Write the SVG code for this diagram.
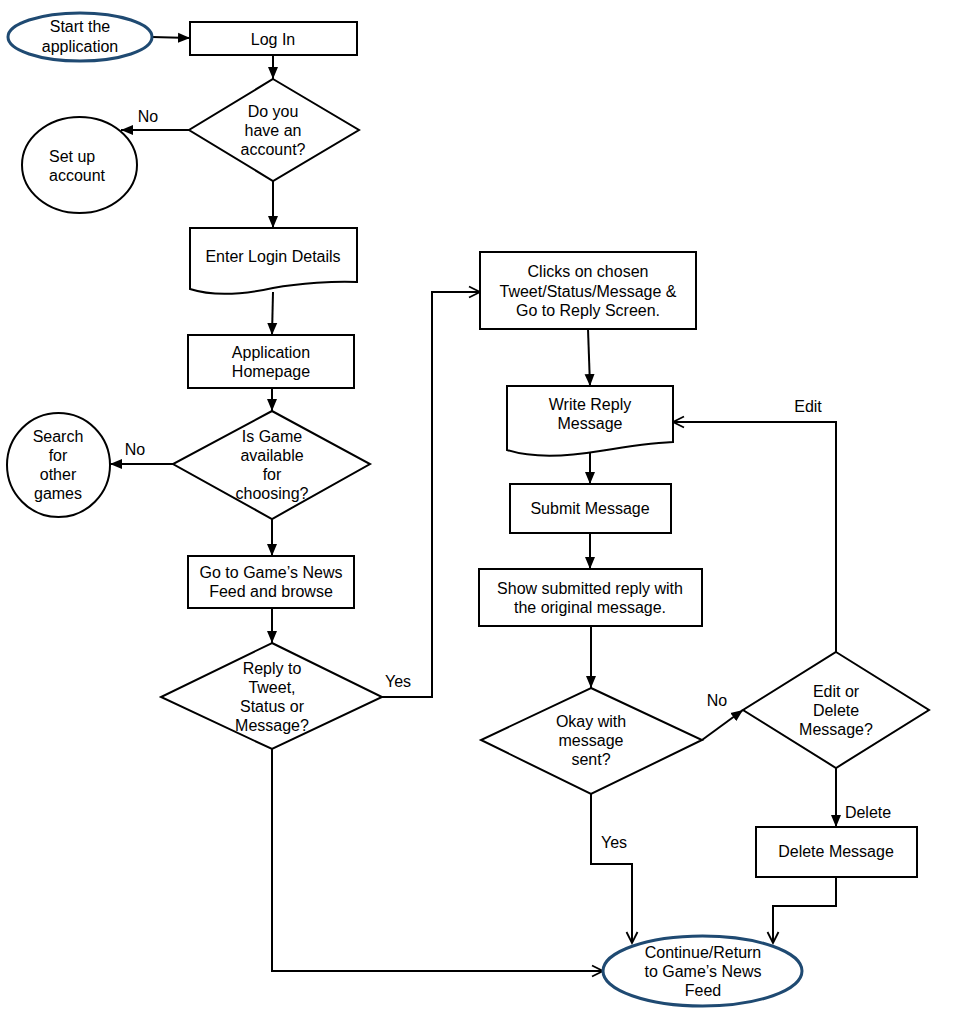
<svg xmlns="http://www.w3.org/2000/svg" width="956" height="1022" viewBox="0 0 956 1022">
<style>
.s{fill:#fff;stroke:#000;stroke-width:2}
.t{fill:#fff;stroke:#1f4a72;stroke-width:3}
text{font-family:"Liberation Sans",Arial,sans-serif;font-size:16px;fill:#000;text-anchor:middle}
text.l{text-anchor:start}
.c{fill:none;stroke:#000;stroke-width:2}
.f{marker-end:url(#af)}
.o{marker-end:url(#ao)}
</style>
<defs>
<marker id="af" markerUnits="userSpaceOnUse" markerWidth="14" markerHeight="12" refX="12" refY="6" orient="auto">
<path d="M0,1 L12,6 L0,11 Z" fill="#000"/>
</marker>
<marker id="ao" markerUnits="userSpaceOnUse" markerWidth="14" markerHeight="14" refX="12" refY="7" orient="auto">
<path d="M1,1.5 L12,7 L1,12.5" fill="none" stroke="#000" stroke-width="1.8"/>
</marker>
</defs>
<g id="connectors">
<path class="c f" d="M152,37 L190,38"/>
<path class="c f" d="M273,55 V79"/>
<path class="c f" d="M189,130 H121"/>
<path class="c f" d="M273,181 V228"/>
<path class="c f" d="M273,292 L272,335"/>
<path class="c f" d="M272,388 V411"/>
<path class="c f" d="M173,464 H110"/>
<path class="c f" d="M272,519 V556"/>
<path class="c f" d="M272,608 V643"/>
<path class="c o" d="M382,697 H432 V292 H480"/>
<path class="c f" d="M588,329 L590,386"/>
<path class="c f" d="M590,451 V484"/>
<path class="c f" d="M590,533 V569"/>
<path class="c f" d="M591,626 V688"/>
<path class="c f" d="M702,740 L743,710"/>
<path class="c o" d="M836,652 V422 H673"/>
<path class="c f" d="M836,768 V827"/>
<path class="c o" d="M591,794 V864 H632 V943"/>
<path class="c o" d="M836,877 V906 H773 V943"/>
<path class="c o" d="M272,748 V971 H603"/>
<text x="148" y="122">No</text>
<text x="135" y="455">No</text>
<text x="398" y="687">Yes</text>
<text x="808" y="412">Edit</text>
<text x="717" y="706">No</text>
<text x="868" y="818">Delete</text>
<text x="614" y="848">Yes</text>
</g>
<g id="start">
<ellipse class="t" cx="80" cy="37" rx="72" ry="24"/>
<text x="80" y="32">Start the</text>
<text x="80" y="52">application</text>
</g>
<g id="login">
<rect class="s" x="190" y="22" width="167" height="33"/>
<text x="273" y="45">Log In</text>
</g>
<g id="have-account">
<path class="s" d="M273,79 L359,130 L273,181 L189,130 Z"/>
<text x="273" y="117">Do you</text>
<text x="273" y="136">have an</text>
<text x="273" y="155">account?</text>
</g>
<g id="setup">
<ellipse class="s" cx="79.5" cy="165" rx="57.5" ry="48"/>
<text class="l" x="49" y="162">Set up</text>
<text class="l" x="49" y="181">account</text>
</g>
<g id="enter-login">
<path class="s" d="M190,228 H357 V282 C335,281 300,283 273,288 C245,294 215,297 190,289 Z"/>
<text x="273" y="262">Enter Login Details</text>
</g>
<g id="homepage">
<rect class="s" x="188" y="335" width="166" height="53"/>
<text x="271" y="358">Application</text>
<text x="271" y="377">Homepage</text>
</g>
<g id="game-available">
<path class="s" d="M272,411 L370,464 L272,519 L173,464 Z"/>
<text x="272" y="442">Is Game</text>
<text x="272" y="461">available</text>
<text x="272" y="480">for</text>
<text x="272" y="499">choosing?</text>
</g>
<g id="search">
<ellipse class="s" cx="58.5" cy="465" rx="51.5" ry="52"/>
<text x="58" y="442">Search</text>
<text x="58" y="461">for</text>
<text x="58" y="480">other</text>
<text x="58" y="499">games</text>
</g>
<g id="newsfeed">
<rect class="s" x="188" y="556" width="166" height="52"/>
<text x="271" y="578">Go to Game’s News</text>
<text x="271" y="597">Feed and browse</text>
</g>
<g id="reply-q">
<path class="s" d="M272,643 L382,697 L272,749 L161,697 Z"/>
<text x="272" y="674">Reply to</text>
<text x="272" y="693">Tweet,</text>
<text x="272" y="712">Status or</text>
<text x="272" y="731">Message?</text>
</g>
<g id="clicks">
<rect class="s" x="480" y="252" width="216" height="77"/>
<text x="588" y="277">Clicks on chosen</text>
<text x="588" y="297">Tweet/Status/Message &amp;</text>
<text x="588" y="316">Go to Reply Screen.</text>
</g>
<g id="write-reply">
<path class="s" d="M507,386 H673 V442 C650,443 630,446 600,451 C570,456 535,459 507,450 Z"/>
<text x="590" y="410">Write Reply</text>
<text x="590" y="429">Message</text>
</g>
<g id="submit">
<rect class="s" x="510" y="484" width="161" height="49"/>
<text x="590" y="514">Submit Message</text>
</g>
<g id="show">
<rect class="s" x="479" y="569" width="223" height="57"/>
<text x="590" y="594">Show submitted reply with</text>
<text x="590" y="613">the original message.</text>
</g>
<g id="okay">
<path class="s" d="M591,688 L702,740 L591,794 L481,740 Z"/>
<text x="591" y="727">Okay with</text>
<text x="591" y="746">message</text>
<text x="591" y="765">sent?</text>
</g>
<g id="edit-delete">
<path class="s" d="M836,652 L929,710 L836,768 L743,710 Z"/>
<text x="836" y="697">Edit or</text>
<text x="836" y="716">Delete</text>
<text x="836" y="735">Message?</text>
</g>
<g id="delete">
<rect class="s" x="756" y="827" width="161" height="50"/>
<text x="836" y="857">Delete Message</text>
</g>
<g id="continue">
<ellipse class="t" cx="702.5" cy="971" rx="99.5" ry="35"/>
<text x="703" y="958">Continue/Return</text>
<text x="703" y="977">to Game’s News</text>
<text x="703" y="996">Feed</text>
</g>
</svg>
